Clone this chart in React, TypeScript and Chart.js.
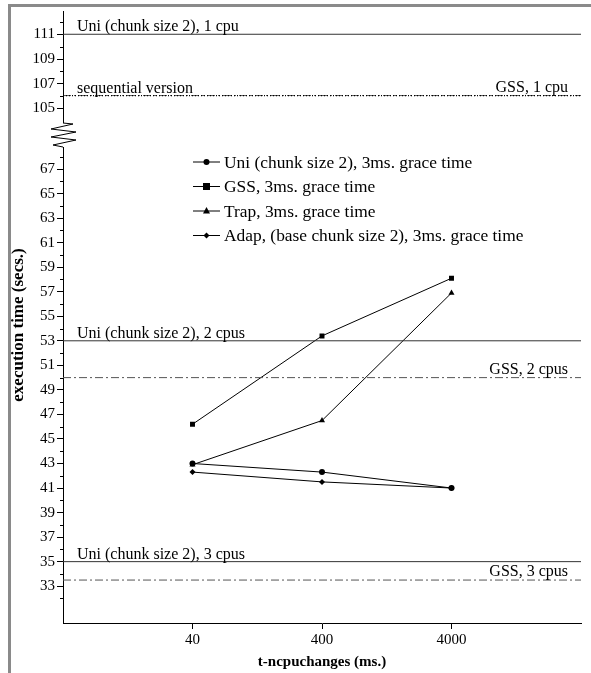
import React, { useEffect, useRef } from 'react';
import { Chart, registerables } from 'chart.js';

Chart.register(...registerables);

// ---------- data ----------
const xValues = [40, 400, 4000];
const uniValues = [43.0, 42.3, 41.0];
const gssValues = [46.2, 53.4, 58.1];
const trapValues = [42.9, 46.5, 56.9];
const adapValues = [42.3, 41.5, 41.0];
const seriesLabels = [
  'Uni (chunk size 2), 3ms. grace time',
  'GSS, 3ms. grace time',
  'Trap, 3ms. grace time',
  'Adap, (base chunk size 2), 3ms. grace time',
];

const refLabels = [
  'Uni (chunk size 2), 1 cpu',
  'sequential version',
  'GSS, 1 cpu',
  'Uni (chunk size 2), 2 cpus',
  'GSS, 2 cpus',
  'Uni (chunk size 2), 3 cpus',
  'GSS, 3 cpus',
];
const refValues = [111, 106.05, 106.05, 53, 50, 35, 33.5];
const refAxis = ['yTop', 'yTop', 'yTop', 'y', 'y', 'y', 'y'];
const refAlign = ['left', 'left', 'right', 'left', 'right', 'left', 'right'];
const refStyle = ['solid', 'dotted', 'dashdot', 'solid', 'dashdot', 'solid', 'dashdot'];

const xTickValues = [40, 400, 4000];
const xRange = [4, 40000];
const lowRange = [30, 69.71];
const topRange = [102.8, 112.88];
const lowTickValues = [33, 35, 37, 39, 41, 43, 45, 47, 49, 51, 53, 55, 57, 59, 61, 63, 65, 67];
const lowMinorValues = [32, 34, 36, 38, 40, 42, 44, 46, 48, 50, 52, 54, 56, 58, 60, 62, 64, 66, 68];
const topTickValues = [105, 107, 109, 111];
const topMinorValues = [106, 108, 110, 112];

const xTitle = 't-ncpuchanges (ms.)';
const yTitle = 'execution time (secs.)';

const FONT = "'Liberation Serif', 'Times New Roman', serif";

function dashFor(style: string) {
  if (style === 'dotted') return [1, 2];
  if (style === 'dashdot') return [8, 3, 2, 3];
  return [];
}
function colorFor(style: string) {
  if (style === 'dotted') return '#000';
  if (style === 'dashdot') return '#555';
  return '#333';
}

function drawMarker(ctx: CanvasRenderingContext2D, kind: string, x: number, y: number) {
  ctx.beginPath();
  if (kind === 'circle') {
    ctx.arc(x, y, 3, 0, Math.PI * 2);
  } else if (kind === 'rect') {
    ctx.rect(x - 3.5, y - 3.5, 7, 7);
  } else if (kind === 'triangle') {
    ctx.moveTo(x, y - 4);
    ctx.lineTo(x + 3.5, y + 2.5);
    ctx.lineTo(x - 3.5, y + 2.5);
    ctx.closePath();
  } else {
    ctx.moveTo(x, y - 3);
    ctx.lineTo(x + 3, y);
    ctx.lineTo(x, y + 3);
    ctx.lineTo(x - 3, y);
    ctx.closePath();
  }
  ctx.fill();
}

const markerKinds = ['circle', 'rect', 'triangle', 'rectRot'];

const decorPlugin = {
  id: 'decor',
  afterDraw(chart: any) {
    const ctx: CanvasRenderingContext2D = chart.ctx;
    const { left, right } = chart.chartArea;
    const yLow = chart.scales.y;
    const yTop = chart.scales.yTop;
    ctx.save();

    // page frame (gray)
    ctx.fillStyle = '#8a8a8a';
    ctx.fillRect(8, 4, chart.width - 8, 3);
    ctx.fillRect(8, 4, 3, chart.height - 4);

    // minor ticks
    ctx.strokeStyle = '#000';
    ctx.lineWidth = 1;
    ctx.beginPath();
    lowMinorValues.forEach((v) => {
      const py = Math.round(yLow.getPixelForValue(v)) + 0.5;
      ctx.moveTo(left - 3, py);
      ctx.lineTo(left, py);
    });
    topMinorValues.forEach((v) => {
      const py = Math.round(yTop.getPixelForValue(v)) + 0.5;
      ctx.moveTo(left - 3, py);
      ctx.lineTo(left, py);
    });
    ctx.stroke();

    // axis break
    const bTop = 123;
    const bBot = 147;
    ctx.fillStyle = '#fff';
    ctx.fillRect(left - 14, bTop, 28, bBot - bTop);
    ctx.beginPath();
    ctx.moveTo(left, bTop);
    ctx.lineTo(left + 10, bTop + 1);
    ctx.lineTo(left - 12, bTop + 6);
    ctx.lineTo(left + 13, bTop + 9);
    ctx.lineTo(left - 12, bTop + 14);
    ctx.lineTo(left + 13, bTop + 17);
    ctx.lineTo(left - 10, bTop + 22);
    ctx.lineTo(left, bBot);
    ctx.strokeStyle = '#000';
    ctx.stroke();

    // reference line labels
    ctx.fillStyle = '#000';
    ctx.font = `16px ${FONT}`;
    ctx.textBaseline = 'alphabetic';
    refLabels.forEach((lab, i) => {
      const sc = refAxis[i] === 'yTop' ? yTop : yLow;
      const py = sc.getPixelForValue(refValues[i]);
      if (refAlign[i] === 'left') {
        ctx.textAlign = 'left';
        ctx.fillText(lab, left + 14, py - 3);
      } else {
        ctx.textAlign = 'right';
        ctx.fillText(lab, right - 13, py - 4);
      }
    });

    // legend
    const lgX0 = 193;
    const lgX1 = 220;
    const rows = [162, 186.5, 211, 235.5];
    ctx.font = `17.4px ${FONT}`;
    ctx.textAlign = 'left';
    ctx.textBaseline = 'middle';
    seriesLabels.forEach((lab, i) => {
      const yy = rows[i];
      ctx.beginPath();
      ctx.moveTo(lgX0, yy);
      ctx.lineTo(lgX1, yy);
      ctx.strokeStyle = '#000';
      ctx.lineWidth = 1;
      ctx.stroke();
      ctx.fillStyle = '#000';
      drawMarker(ctx, markerKinds[i], (lgX0 + lgX1) / 2, yy);
      ctx.fillText(lab, lgX1 + 4, yy + 1);
    });

    // axis titles
    ctx.font = `bold 15px ${FONT}`;
    ctx.textAlign = 'center';
    ctx.textBaseline = 'middle';
    ctx.fillText(xTitle, (left + right) / 2, 662);
    ctx.save();
    ctx.translate(19, 325);
    ctx.rotate(-Math.PI / 2);
    ctx.font = `bold 17px ${FONT}`;
    ctx.fillText(yTitle, 0, 0);
    ctx.restore();

    ctx.restore();
  },
};

export default function App() {
  const ref = useRef<HTMLCanvasElement>(null);

  useEffect(() => {
    document.body.style.margin = '0';
    const canvas = ref.current;
    if (!canvas) return;

    const refSets = refValues.map((v, i) => ({
      label: refLabels[i],
      data: [
        { x: xRange[0], y: v },
        { x: xRange[1], y: v },
      ],
      yAxisID: refAxis[i],
      borderColor: colorFor(refStyle[i]),
      borderWidth: refStyle[i] === 'dotted' ? 1.3 : 1,
      borderDash: dashFor(refStyle[i]),
      pointRadius: 0,
      fill: false,
    }));

    const seriesData = [uniValues, gssValues, trapValues, adapValues];
    const seriesSets = seriesData.map((vals, i) => ({
      label: seriesLabels[i],
      data: xValues.map((x, j) => ({ x, y: vals[j] })),
      yAxisID: 'y',
      borderColor: '#000',
      backgroundColor: '#000',
      borderWidth: 1,
      pointStyle: markerKinds[i],
      pointRadius: i === 1 ? 3.5 : i === 2 ? 3.5 : 3,
      pointBorderWidth: 0,
      fill: false,
    }));

    const tickFont = { family: FONT, size: 15 };

    const chart = new Chart(canvas, {
      type: 'line',
      data: { datasets: [...refSets, ...seriesSets] as any },
      options: {
        animation: false,
        responsive: false,
        devicePixelRatio: 1,
        layout: { padding: { top: 10, right: 10, left: 0, bottom: 0 } },
        plugins: { legend: { display: false }, tooltip: { enabled: false } },
        scales: {
          x: {
            type: 'logarithmic',
            min: xRange[0],
            max: xRange[1],
            afterBuildTicks: (s: any) => {
              s.ticks = xTickValues.map((v) => ({ value: v }));
            },
            afterFit: (s: any) => {
              s.height = 50;
            },
            ticks: {
              color: '#000',
              font: tickFont,
              padding: 2,
              maxRotation: 0,
              autoSkip: false,
              callback: (v: any) => String(v),
            },
            grid: { drawOnChartArea: false, tickLength: 6, color: '#000' },
            border: { display: true, color: '#000', width: 1 },
          },
          y: {
            type: 'linear',
            position: 'left',
            stack: 'ys',
            stackWeight: 488,
            weight: 0,
            min: lowRange[0],
            max: lowRange[1],
            afterBuildTicks: (s: any) => {
              s.ticks = lowTickValues.map((v) => ({ value: v }));
            },
            afterFit: (s: any) => {
              s.width = 63;
            },
            ticks: { color: '#000', font: tickFont, padding: 2, autoSkip: false, callback: (v: any) => String(v) },
            grid: { drawOnChartArea: false, tickLength: 6, color: '#000' },
            border: { display: true, color: '#000', width: 1 },
          },
          yTop: {
            type: 'linear',
            position: 'left',
            stack: 'ys',
            stackWeight: 125,
            weight: 1,
            min: topRange[0],
            max: topRange[1],
            afterBuildTicks: (s: any) => {
              s.ticks = topTickValues.map((v) => ({ value: v }));
            },
            afterFit: (s: any) => {
              s.width = 63;
            },
            ticks: { color: '#000', font: tickFont, padding: 2, autoSkip: false, callback: (v: any) => String(v) },
            grid: { drawOnChartArea: false, tickLength: 6, color: '#000' },
            border: { display: true, color: '#000', width: 1 },
          },
        },
      } as any,
      plugins: [decorPlugin],
    });

    return () => chart.destroy();
  }, []);

  return (
    <div style={{ width: 591, height: 673, background: '#fff' }}>
      <canvas ref={ref} width={591} height={673} style={{ display: 'block' }} />
    </div>
  );
}
